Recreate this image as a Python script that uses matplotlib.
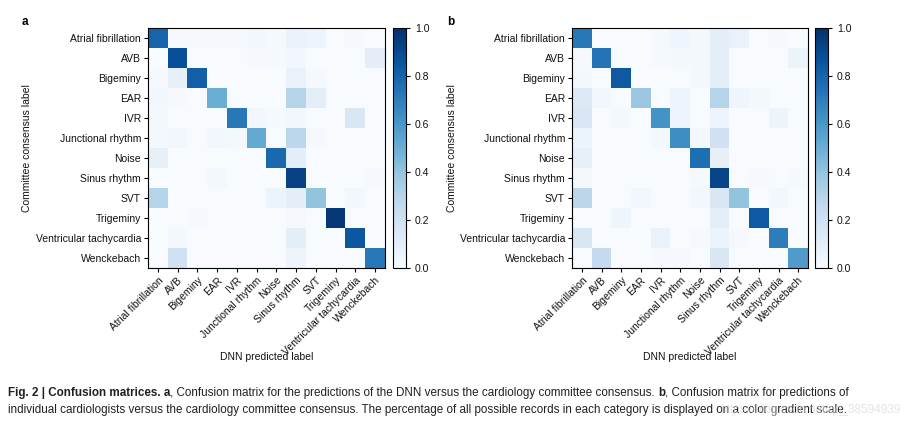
import numpy as np
import matplotlib
matplotlib.use("Agg")
import matplotlib.pyplot as plt

plt.rcParams["font.family"] = ["Liberation Sans", "DejaVu Sans"]

classes = ["Atrial fibrillation", "AVB", "Bigeminy", "EAR", "IVR", "Junctional rhythm",
           "Noise", "Sinus rhythm", "SVT", "Trigeminy", "Ventricular tachycardia", "Wenckebach"]

cm_dnn = np.array([
    [0.80, 0.01, 0.01, 0.01, 0.01, 0.03, 0.01, 0.07, 0.05, 0.00, 0.01, 0.00],
    [0.00, 0.88, 0.00, 0.00, 0.00, 0.01, 0.01, 0.03, 0.00, 0.00, 0.00, 0.10],
    [0.01, 0.08, 0.82, 0.00, 0.00, 0.00, 0.00, 0.07, 0.01, 0.00, 0.00, 0.00],
    [0.03, 0.01, 0.00, 0.50, 0.00, 0.00, 0.00, 0.30, 0.10, 0.00, 0.00, 0.00],
    [0.02, 0.00, 0.00, 0.00, 0.72, 0.03, 0.01, 0.03, 0.00, 0.00, 0.15, 0.00],
    [0.02, 0.03, 0.00, 0.03, 0.02, 0.52, 0.00, 0.28, 0.01, 0.00, 0.00, 0.00],
    [0.08, 0.00, 0.00, 0.00, 0.00, 0.00, 0.78, 0.10, 0.00, 0.00, 0.00, 0.00],
    [0.00, 0.00, 0.00, 0.02, 0.00, 0.00, 0.00, 0.93, 0.00, 0.00, 0.00, 0.01],
    [0.30, 0.00, 0.00, 0.00, 0.00, 0.00, 0.06, 0.10, 0.40, 0.00, 0.03, 0.00],
    [0.00, 0.00, 0.01, 0.00, 0.00, 0.00, 0.00, 0.01, 0.00, 0.97, 0.00, 0.00],
    [0.00, 0.02, 0.00, 0.00, 0.00, 0.00, 0.00, 0.10, 0.00, 0.00, 0.85, 0.00],
    [0.00, 0.20, 0.00, 0.00, 0.00, 0.00, 0.00, 0.05, 0.00, 0.00, 0.00, 0.72],
])

cm_cardio = np.array([
    [0.72, 0.00, 0.00, 0.00, 0.01, 0.04, 0.02, 0.10, 0.07, 0.00, 0.01, 0.00],
    [0.01, 0.74, 0.00, 0.00, 0.01, 0.02, 0.02, 0.10, 0.00, 0.00, 0.00, 0.06],
    [0.02, 0.00, 0.84, 0.00, 0.00, 0.00, 0.02, 0.10, 0.00, 0.00, 0.00, 0.00],
    [0.13, 0.03, 0.00, 0.38, 0.00, 0.05, 0.00, 0.30, 0.04, 0.02, 0.00, 0.00],
    [0.15, 0.00, 0.02, 0.00, 0.62, 0.05, 0.00, 0.05, 0.00, 0.00, 0.05, 0.00],
    [0.06, 0.00, 0.00, 0.00, 0.02, 0.64, 0.02, 0.20, 0.00, 0.00, 0.00, 0.00],
    [0.08, 0.00, 0.00, 0.00, 0.00, 0.00, 0.76, 0.08, 0.00, 0.00, 0.00, 0.00],
    [0.02, 0.00, 0.00, 0.00, 0.00, 0.00, 0.01, 0.92, 0.00, 0.01, 0.00, 0.01],
    [0.28, 0.00, 0.00, 0.03, 0.00, 0.00, 0.03, 0.15, 0.40, 0.00, 0.03, 0.00],
    [0.00, 0.00, 0.04, 0.00, 0.00, 0.00, 0.00, 0.10, 0.00, 0.84, 0.00, 0.00],
    [0.15, 0.00, 0.00, 0.00, 0.07, 0.00, 0.01, 0.06, 0.01, 0.00, 0.70, 0.00],
    [0.00, 0.25, 0.00, 0.00, 0.01, 0.01, 0.00, 0.15, 0.00, 0.00, 0.00, 0.58],
])

panel_letters = ["a", "b"]
xlabel = "DNN predicted label"
ylabel = "Committee consensus label"
cbar_ticks = [0.0, 0.2, 0.4, 0.6, 0.8, 1.0]

caption_l1 = [("Fig. 2 | Confusion matrices. a", True),
              (", Confusion matrix for the predictions of the DNN versus the cardiology committee consensus. ", False),
              ("b", True),
              (", Confusion matrix for predictions of", False)]
caption_l2 = ("individual cardiologists versus the cardiology committee consensus. "
              "The percentage of all possible records in each category is displayed on a color gradient scale.")
watermark = "https://blog.csdn.net/qq_38594939"

W, H = 906, 428
fig = plt.figure(figsize=(W / 100, H / 100), dpi=100)

def box(x0, y0, x1, y1):
    return [x0 / W, 1 - y1 / H, (x1 - x0) / W, (y1 - y0) / H]

fs = 7.5
panels = [
    (cm_dnn, box(148, 28, 385, 268), box(393, 28, 406, 268), 22, 32),
    (cm_cardio, box(572, 28, 808, 268), box(815, 28, 828, 268), 447, 457),
]

txtc = "#111111"
for (mat, axpos, cbpos, letter_x, ylab_right), letter in zip(panels, panel_letters):
    ax = fig.add_axes(axpos)
    im = ax.imshow(mat, cmap="Blues", vmin=0, vmax=1, aspect="auto", interpolation="nearest")
    ax.set_xticks(np.arange(len(classes)))
    ax.set_yticks(np.arange(len(classes)))
    ax.set_xticklabels(classes, rotation=45, ha="right", rotation_mode="anchor", fontsize=fs, color=txtc)
    ax.set_yticklabels(classes, fontsize=fs, color=txtc)
    ax.tick_params(length=3, width=0.8, pad=2)
    for s in ax.spines.values():
        s.set_linewidth(0.8)
    ax.set_xlabel(xlabel, fontsize=fs, color=txtc)
    ax.set_ylabel(ylabel, fontsize=fs, color=txtc)
    axw = axpos[2] * W
    ax.yaxis.set_label_coords((ylab_right - axpos[0] * W) / axw, 0.5)
    ax.xaxis.set_label_coords(0.5, -(352 - 268) / 240)
    cax = fig.add_axes(cbpos)
    cb = fig.colorbar(im, cax=cax, ticks=cbar_ticks)
    cb.ax.tick_params(labelsize=fs, length=3, width=0.8, labelcolor=txtc)
    cb.outline.set_linewidth(0.8)
    fig.text(letter_x / W, 1 - 22 / H, letter, fontsize=8.5, fontweight="bold", va="center")

fig.canvas.draw()
r = fig.canvas.get_renderer()

# choose caption size so line 2 spans about 8..850 px
cap_fs = 8.0
probe = fig.text(0, 0, caption_l2, fontsize=cap_fs)
wpx = probe.get_window_extent(r).width
probe.remove()
cap_fs = cap_fs * (842 / wpx)

y1 = 1 - 393 / H
y2 = 1 - 410 / H
x = 8
for s, bold in caption_l1:
    t = fig.text(x / W, y1, s, fontsize=cap_fs, fontweight="bold" if bold else "normal",
                 va="center", color="#231f20")
    x = t.get_window_extent(r).x1
fig.text(8 / W, y2, caption_l2, fontsize=cap_fs, va="center", color="#231f20")
fig.text(900 / W, y2, watermark, fontsize=8.5, color="#d8d8d8", ha="right", va="center", alpha=0.7)

fig.savefig("out.png", dpi=100)
